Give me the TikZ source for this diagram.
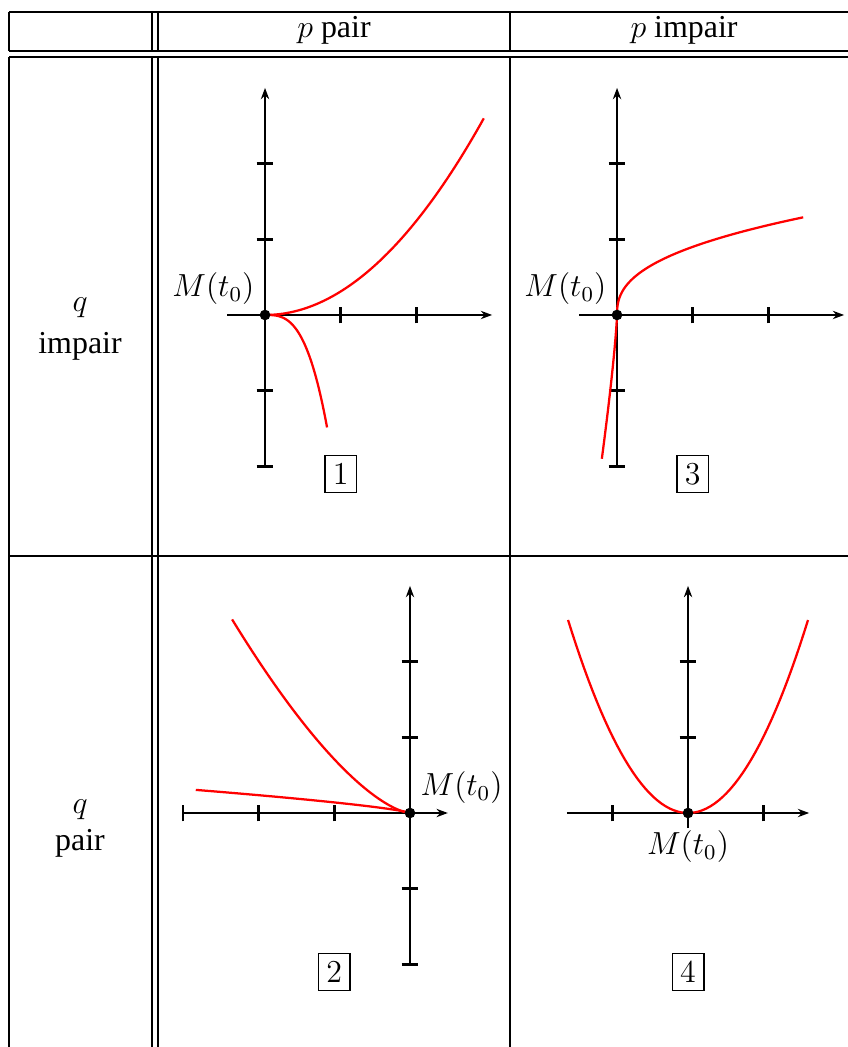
\documentclass[tikz,border=0pt]{standalone}
\usepackage[no-math]{fontspec}
\setmainfont{Liberation Serif}
\usetikzlibrary{positioning,arrows.meta}

\begin{document}
\begin{tikzpicture}[
    trait/.style={line width=0.5pt},
    axe/.style={line width=1pt, -{Stealth[length=1.5mm, width=1.1mm, inset=0.5mm]}},
    grad/.style={line width=1pt},
    courbe/.style={red, line width=0.85pt},
    point/.style={circle, fill=black, inner sep=0pt, minimum size=4pt},
    etiq/.style={font=\fontsize{12}{14}\selectfont, inner sep=0pt},
    numero/.style={draw, line width=0.5pt, inner sep=3pt, font=\fontsize{12}{14}\selectfont},
    entete/.style={font=\fontsize{12}{14}\selectfont\rmfamily, anchor=base},
]
\useasboundingbox (0,0) rectangle (11.202,13.831);

% le tableau
\draw[trait] (0.119,13.672) -- (11.202,13.672);
\draw[trait] (0.119,13.157) -- (11.202,13.157);
\draw[trait] (0.119,13.078) -- (11.202,13.078);
\draw[trait] (0.119,6.486) -- (11.202,6.486);
\foreach \xpos in {0.119,2.008,2.087,6.737} {
    \draw[trait] (\xpos,13.672) -- (\xpos,13.157);
    \draw[trait] (\xpos,13.078) -- (\xpos,0);
}

\node[entete] (h1) at (4.412,13.329) {$p$ pair};
\node[entete] (h2) at (9.036,13.329) {$p$ impair};
\node[entete] (q1) at (1.057,9.71) {$q$};
\node[entete] (r1) at (1.057,9.155) {impair};
\node[entete] (q2) at (1.057,3.08) {$q$};
\node[entete] (r2) at (1.057,2.60) {pair};

\coordinate (o1) at (3.501,9.670);
\coordinate (o3) at (8.151,9.670);
\coordinate (o2) at (5.416,3.091);
\coordinate (o4) at (9.089,3.091);

% cas 1 : p pair, q impair
\begin{scope}[shift={(o1)}]
\draw[axe] (-0.5,0) -- (3,0);
\draw[axe] (0,-2) -- (0,3);
\foreach \pos in {1,2} \draw[grad] (\pos,-0.11) -- (\pos,0.11);
\foreach \pos in {-2,-1,1,2} \draw[grad] (-0.11,\pos) -- (0.11,\pos);
\draw[courbe, domain=0:2.89, samples=60] plot (\x,{0.311*\x*\x});
\draw[courbe, domain=0:0.82, samples=40] plot (\x,{-2.7*\x*\x*\x});
\node[point] (p1) at (0,0) {};
\node[etiq, above left=0.08cm and 0.08cm of p1] (m1) {$M(t_0)$};
\node[numero] (n1) at (1,-2.1) {$1$};
\end{scope}

% cas 3 : p impair, q impair
\begin{scope}[shift={(o3)}]
\draw[axe] (-0.5,0) -- (3,0);
\draw[axe] (0,-2) -- (0,3);
\foreach \pos in {1,2} \draw[grad] (\pos,-0.11) -- (\pos,0.11);
\foreach \pos in {-2,-1,1,2} \draw[grad] (-0.11,\pos) -- (0.11,\pos);
\draw[courbe, domain=0:1.434, samples=60, variable=\u] plot ({\u*\u*sqrt(\u)},{0.9*\u});
\draw[courbe, domain=0:1.9, samples=30, variable=\u] plot ({-0.09*\u*sqrt(sqrt(\u))},{-\u});
\node[point] (p3) at (0,0) {};
\node[etiq, above left=0.08cm and 0.08cm of p3] (m3) {$M(t_0)$};
\node[numero] (n3) at (1,-2.1) {$3$};
\end{scope}

% cas 2 : p pair, q pair
\begin{scope}[shift={(o2)}]
\draw[axe] (-3,0) -- (0.5,0);
\draw[axe] (0,-2) -- (0,3);
\foreach \pos in {-3,-2,-1} \draw[grad] (\pos,-0.11) -- (\pos,0.11);
\foreach \pos in {-2,-1,1,2} \draw[grad] (-0.11,\pos) -- (0.11,\pos);
\draw[courbe, domain=0:2.35, samples=60, variable=\u] plot ({-\u},{0.71*\u*sqrt(\u)});
\draw[courbe, domain=0:2.83, samples=60, variable=\u] plot ({-\u},{0.14*sqrt(\u)*sqrt(sqrt(\u))});
\node[point] (p2) at (0,0) {};
\node[etiq, above right=0.06cm and 0.08cm of p2] (m2) {$M(t_0)$};
\node[numero] (n2) at (-1,-2.1) {$2$};
\end{scope}

% cas 4 : p impair, q pair
\begin{scope}[shift={(o4)}]
\draw[axe] (-1.6,0) -- (1.6,0);
\draw[axe] (0,-0.2) -- (0,3);
\foreach \pos in {-1,1} \draw[grad] (\pos,-0.11) -- (\pos,0.11);
\foreach \pos in {1,2} \draw[grad] (-0.11,\pos) -- (0.11,\pos);
\draw[courbe, domain=-1.585:1.585, samples=60] plot (\x,{1.015*\x*\x});
\node[point] (p4) at (0,0) {};
\node[etiq, below=0.15cm of p4] (m4) {$M(t_0)$};
\node[numero] (n4) at (0,-2.1) {$4$};
\end{scope}
\end{tikzpicture}
\end{document}
